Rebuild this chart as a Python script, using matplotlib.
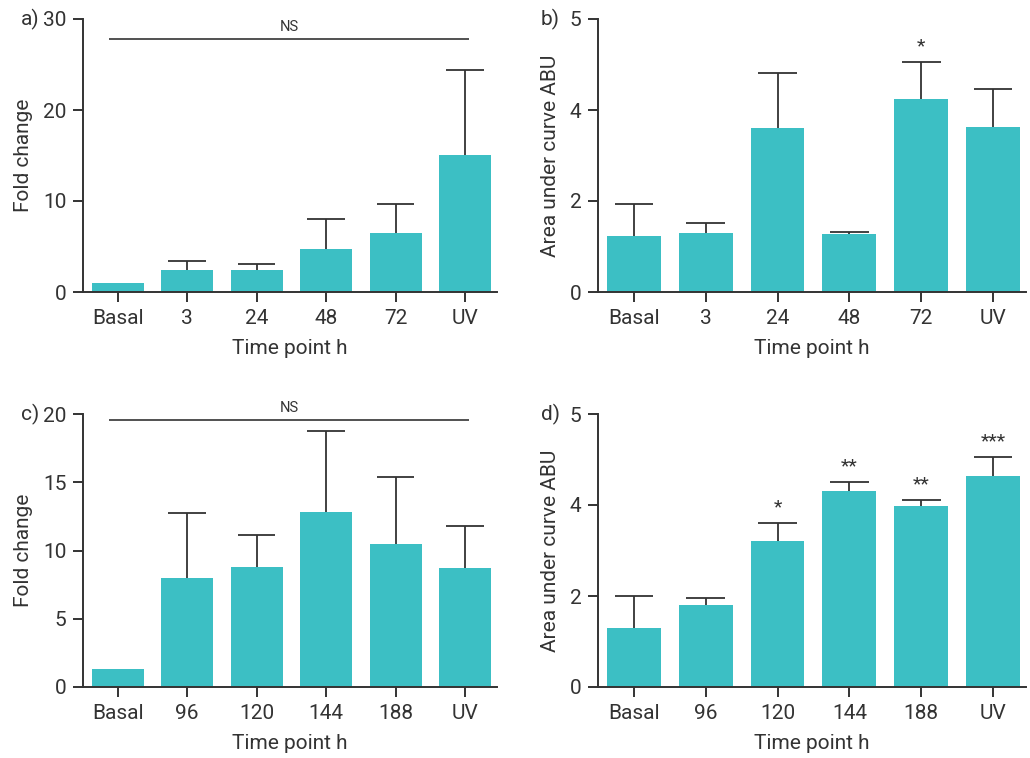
import numpy as np
import matplotlib.pyplot as plt

plt.rcParams['font.family'] = ['Roboto', 'DejaVu Sans']

# data
labels_ab = ["Basal", "3", "24", "48", "72", "UV"]
labels_cd = ["Basal", "96", "120", "144", "188", "UV"]

fold_a = [1.0, 2.4, 2.4, 4.7, 6.5, 15.05]
fold_a_top = [1.0, 3.42, 3.05, 8.0, 9.68, 24.42]

auc_b = [1.23, 1.29, 3.60, 1.27, 4.24, 3.62]
auc_b_top = [1.93, 1.52, 4.81, 1.31, 5.05, 4.46]
stars_b = ["", "", "", "", "*", ""]

fold_c = [1.3, 7.97, 8.78, 12.81, 10.46, 8.70]
fold_c_top = [1.3, 12.76, 11.15, 18.75, 15.35, 11.81]

auc_d = [1.29, 1.80, 3.21, 4.31, 3.98, 4.64]
auc_d_top = [2.0, 1.95, 3.60, 4.51, 4.10, 5.05]
stars_d = ["", "", "*", "**", "**", "***"]

bar_color = "#3cbfc4"
ink = "#333333"
fs = 15

fig = plt.figure(figsize=(10.3, 7.58), dpi=100)
W, H = 1030, 758


def make_axes(left, right, top, bottom):
    return fig.add_axes([left / W, 1 - bottom / H, (right - left) / W, (bottom - top) / H])


def draw_panel(ax, labels, vals, tops, ymax, yticks, yticklabels, ylabel, stars=None, ns_y=None):
    x = np.arange(len(labels))
    ax.bar(x, vals, width=0.75, color=bar_color, zorder=2)
    has_err = [t > v + 1e-9 for v, t in zip(vals, tops)]
    xe = x[has_err]
    ve = np.array(vals)[has_err]
    te = np.array(tops)[has_err]
    ax.vlines(xe, ve, te, color=ink, lw=1.3, zorder=3)
    ax.hlines(te, xe - 0.27, xe + 0.27, color=ink, lw=1.3, zorder=3)
    if stars is not None:
        for xi, t, s in zip(x, tops, stars):
            if s:
                ax.text(xi, t + ymax * 0.025, s, ha="center", va="bottom",
                        fontsize=14, color=ink)
    if ns_y is not None:
        ax.hlines(ns_y, -0.12, 5.05, color=ink, lw=1.2, clip_on=False)
        ax.text(2.47, ns_y + ymax * 0.02, "NS", ha="center", va="bottom",
                fontsize=10.5, color=ink)
    ax.set_xlim(-0.5, 5.46)
    ax.set_ylim(0, ymax)
    ax.set_xticks(x)
    ax.set_xticklabels(labels)
    ax.set_yticks(yticks)
    ax.set_yticklabels(yticklabels)
    for side in ["top", "right"]:
        ax.spines[side].set_visible(False)
    for side in ["left", "bottom"]:
        ax.spines[side].set_color(ink)
        ax.spines[side].set_linewidth(1.4)
    ax.tick_params(direction="out", length=7, width=1.4, colors=ink,
                   labelsize=fs, labelcolor=ink, pad=5)
    ax.set_xlabel("Time point h", fontsize=fs, color=ink, labelpad=8)
    ax.set_ylabel(ylabel, fontsize=fs, color=ink, labelpad=7)


ax_a = make_axes(83, 497, 19, 292)
draw_panel(ax_a, labels_ab, fold_a, fold_a_top, 30, [0, 10, 20, 30],
           ["0", "10", "20", "30"], "Fold change", ns_y=27.8)

ax_b = make_axes(598, 1026, 19, 292)
draw_panel(ax_b, labels_ab, auc_b, auc_b_top, 6, [0, 2, 4, 6],
           ["0", "2", "4", "5"], "Area under curve ABU", stars=stars_b)

ax_c = make_axes(83, 497, 414, 687)
draw_panel(ax_c, labels_cd, fold_c, fold_c_top, 20, [0, 5, 10, 15, 20],
           ["0", "5", "10", "15", "20"], "Fold change", ns_y=19.56)

ax_d = make_axes(598, 1026, 414, 687)
draw_panel(ax_d, labels_cd, auc_d, auc_d_top, 6, [0, 2, 4, 6],
           ["0", "2", "4", "5"], "Area under curve ABU", stars=stars_d)

for lab, px, py in [("a)", 30, 19), ("b)", 550, 19), ("c)", 30, 414), ("d)", 550, 414)]:
    fig.text(px / W, 1 - py / H, lab, ha="center", va="center", fontsize=fs, color=ink)

fig.savefig("out.png", dpi=100)
